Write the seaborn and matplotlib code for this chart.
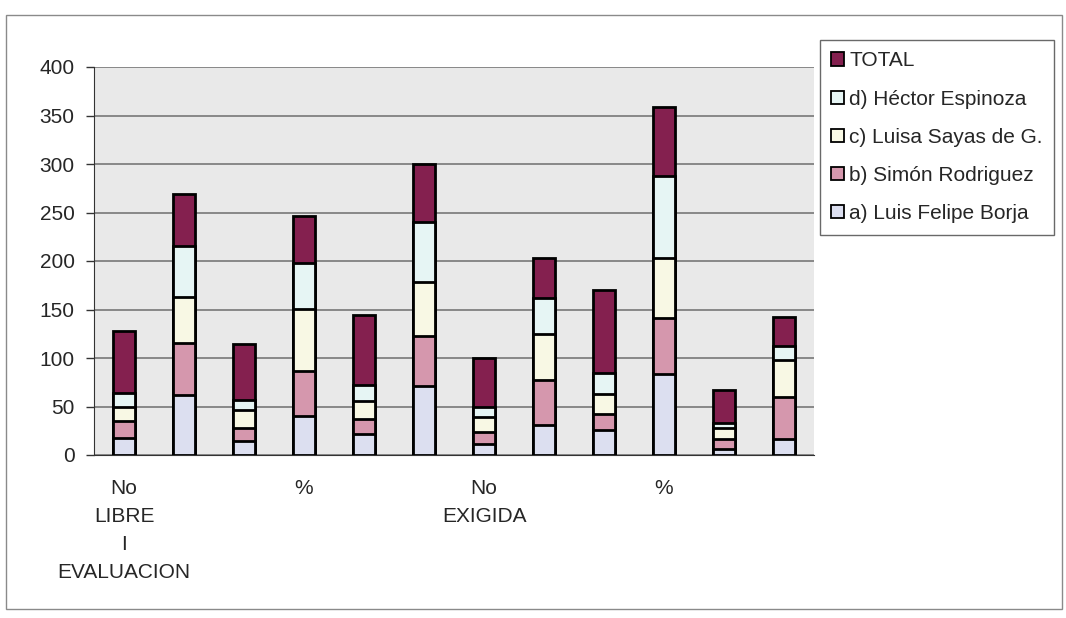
import matplotlib
matplotlib.use('Agg')
import matplotlib.pyplot as plt
from matplotlib.patches import Patch, Rectangle
import numpy as np
import pandas as pd
import seaborn as sns

# values (segment heights, bottom to top)
positions = list(range(12))
tick_labels = ['No\nLIBRE\nI\nEVALUACION', '', '', '%', '', '',
               'No\nEXIGIDA', '', '', '%', '', '']
borja = [18, 62, 14, 40, 22, 71, 11, 31, 26, 84, 6, 17]
simon = [17, 53, 14, 47, 15, 52, 13, 46, 16, 57, 11, 43]
sayas = [15, 48, 18, 64, 19, 55, 15, 48, 21, 62, 11, 38]
espinoza = [14, 52, 11, 47, 16, 62, 11, 37, 22, 85, 5, 14]
total = [64, 54, 57, 48, 72, 60, 50, 41, 85, 71, 34, 30]

series = ['a) Luis Felipe Borja', 'b) Simón Rodriguez', 'c) Luisa Sayas de G.',
          'd) Héctor Espinoza', 'TOTAL']
colors = ['#dcdff0', '#d597ad', '#f8f8e4', '#e6f5f4', '#84204f']

df = pd.DataFrame({'pos': positions, series[0]: borja, series[1]: simon,
                   series[2]: sayas, series[3]: espinoza, series[4]: total})

sns.set_style('white')
plt.rcParams['font.family'] = ['Liberation Sans', 'DejaVu Sans']

fig = plt.figure(figsize=(10.66, 6.18), dpi=100)
ax = fig.add_axes([94 / 1066, 1 - 455 / 618, (814 - 94) / 1066, (455 - 67) / 618])
ax.set_facecolor('#e9e9e9')

# stacked bars: draw the cumulative sums from the top layer down
cum = df[series].cumsum(axis=1)
for name, col in reversed(list(zip(series, colors))):
    sns.barplot(x=df['pos'], y=cum[name], color=col, width=0.38,
                edgecolor='black', linewidth=2, saturation=1, ax=ax, zorder=3)

ax.set_ylim(0, 400)
ax.set_xlim(-0.5, 11.5)
ax.set_yticks(range(0, 401, 50))
ax.yaxis.grid(True, color='#6e6e6e', linewidth=1.1, zorder=0)
ax.set_axisbelow(True)
ax.set_xlabel('')
ax.set_ylabel('')

ax.set_xticks(positions)
ax.set_xticklabels(tick_labels, fontsize=15, linespacing=1.6, va='top')
ax.tick_params(axis='x', length=0, pad=17)
ax.set_xticks(np.arange(-0.5, 12, 1), minor=True)
ax.tick_params(axis='x', which='minor', length=6, width=1, direction='out',
               color='#333333')
ax.tick_params(axis='y', labelsize=15, length=6, width=1, direction='out',
               color='#333333', pad=8, left=True)

for side in ['top', 'right']:
    ax.spines[side].set_visible(False)
ax.spines['left'].set_color('#333333')
ax.spines['bottom'].set_color('#333333')

handles = [Patch(facecolor=c, edgecolor='black', linewidth=1.3, label=s)
           for s, c in zip(series, colors)][::-1]
leg = fig.legend(handles=handles, loc='upper left',
                 bbox_to_anchor=(820 / 1066, 1 - 40 / 618), fontsize=15,
                 frameon=True, fancybox=False, edgecolor='#444444',
                 labelspacing=0.92, handlelength=0.6, handleheight=0.6,
                 handletextpad=0.25, borderpad=0.55, borderaxespad=0)
leg.get_frame().set_linewidth(1)

# outer chart border of the scanned figure
fig.patches.append(Rectangle((6 / 1066, 1 - 609 / 618), (1062 - 6) / 1066,
                             (609 - 15) / 618, transform=fig.transFigure,
                             fill=False, edgecolor='#8a8a8a', linewidth=1))

fig.savefig('out.png', dpi=100, facecolor='white')
